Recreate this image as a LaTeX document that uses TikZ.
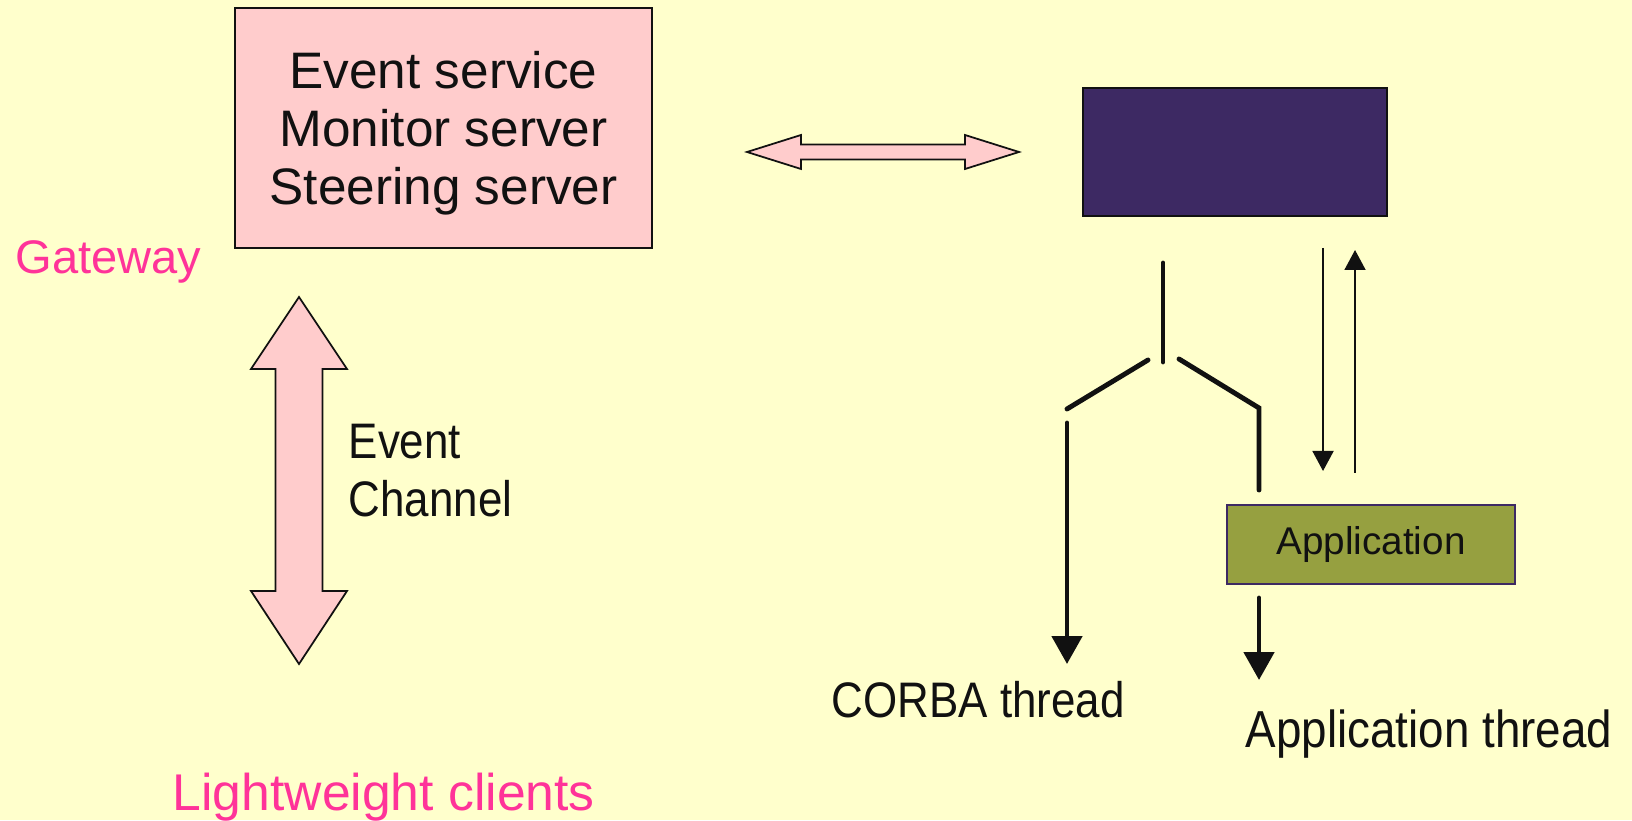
\documentclass[tikz,border=0pt]{standalone}
\usepackage{fontspec}
\setmainfont{Liberation Sans}
\newfontfamily\narrowfont{Liberation Sans}[FakeStretch=0.88]
\usepackage{xcolor}
\usetikzlibrary{arrows.meta, positioning}
\definecolor{bgyellow}{HTML}{FFFFCC}
\definecolor{boxpink}{HTML}{FFCCCC}
\definecolor{hotpink}{HTML}{FF3399}
\definecolor{orbpurple}{HTML}{3D2963}
\definecolor{appolive}{HTML}{96A040}
\definecolor{inkblack}{HTML}{111111}
\tikzset{
    txt/.style={inner sep=0pt, text=inkblack, font=\fontsize{14}{16.5}\selectfont},
    narrowtxt/.style={inner sep=0pt, text=inkblack, font=\narrowfont\fontsize{14.2}{16.5}\selectfont},
    blockarrow/.style={draw=inkblack, fill=boxpink, line width=0.5pt, line join=miter},
    forkline/.style={draw=inkblack, line width=1.4pt, line cap=round},
    bigtip/.style={forkline, -{Triangle[width=3mm,length=2.8mm]}},
    smalltip/.style={draw=inkblack, line width=0.5pt, -{Triangle[width=2.1mm,length=2mm]}},
}

\begin{document}
\begin{tikzpicture}
    \useasboundingbox (0,0) rectangle (16.32,8.2);
    \fill[bgyellow] (0,0) rectangle (16.32,8.2);

    \node[draw=inkblack, fill=boxpink, line width=0.5pt, minimum width=4.17cm, minimum height=2.4cm, align=center, text depth=0pt, text=inkblack, font=\fontsize{14.6}{16.5}\selectfont] (gateway) at (4.435,6.92) {Event service\\Monitor server\\Steering server};
    \node[txt, text=hotpink, font=\fontsize{13.4}{16}\selectfont, anchor=base west] (gwlabel) at (0.15,5.46) {Gateway};
    \node[txt, text=hotpink, font=\fontsize{14.7}{16}\selectfont, anchor=base west] (clients) at (1.72,0.10) {Lightweight clients};
    \node[narrowtxt, align=left, anchor=west] (channel) at (3.48,3.49) {Event\\Channel};

    \node[draw=inkblack, fill=orbpurple, line width=0.5pt, minimum width=3.04cm, minimum height=1.28cm] (orb) at (12.35,6.68) {};
    \node[draw=orbpurple, fill=appolive, line width=0.5pt, minimum width=2.88cm, minimum height=0.79cm, text=inkblack, font=\fontsize{11}{13}\selectfont] (app) at (13.71,2.755) {Application};
    \node[narrowtxt, anchor=base west] (corbathread) at (8.31,1.03) {CORBA thread};
    \node[narrowtxt, font=\narrowfont\fontsize{14.8}{16.5}\selectfont, anchor=base west] (appthread) at (12.45,0.73) {Application thread};

    \draw[blockarrow] (7.47,6.68) -- (8.01,6.85) -- (8.01,6.755) -- (9.65,6.755) -- (9.65,6.85) -- (10.19,6.68)
        -- (9.65,6.51) -- (9.65,6.605) -- (8.01,6.605) -- (8.01,6.51) -- cycle;
    \draw[blockarrow] (2.99,5.23) -- (3.47,4.51) -- (3.225,4.51) -- (3.225,2.29) -- (3.47,2.29) -- (2.99,1.56)
        -- (2.51,2.29) -- (2.755,2.29) -- (2.755,4.51) -- (2.51,4.51) -- cycle;

    \coordinate (stemtop) at (11.63,5.57);
    \coordinate (stembot) at (11.63,4.58);
    \coordinate (lefttop) at (11.48,4.60);
    \coordinate (leftbot) at (10.67,4.11);
    \coordinate (corbastart) at (10.67,3.97);
    \coordinate (corbatip) at (10.67,1.56);
    \coordinate (righttop) at (11.79,4.61);
    \coordinate (rightknee) at (12.59,4.12);
    \coordinate (rightbot) at (12.59,3.30);
    \coordinate (appstart) at (12.59,2.22);
    \coordinate (apptip) at (12.59,1.40);
    \coordinate (downtop) at (13.23,5.72);
    \coordinate (downtip) at (13.23,3.49);
    \coordinate (upbot) at (13.55,3.47);
    \coordinate (uptip) at (13.55,5.70);

    \draw[forkline] (stemtop) -- (stembot);
    \draw[forkline] (lefttop) -- (leftbot);
    \draw[forkline] (righttop) -- (rightknee) -- (rightbot);
    \draw[bigtip] (corbastart) -- (corbatip);
    \draw[bigtip] (appstart) -- (apptip);
    \draw[smalltip] (downtop) -- (downtip);
    \draw[smalltip] (upbot) -- (uptip);
\end{tikzpicture}
\end{document}
